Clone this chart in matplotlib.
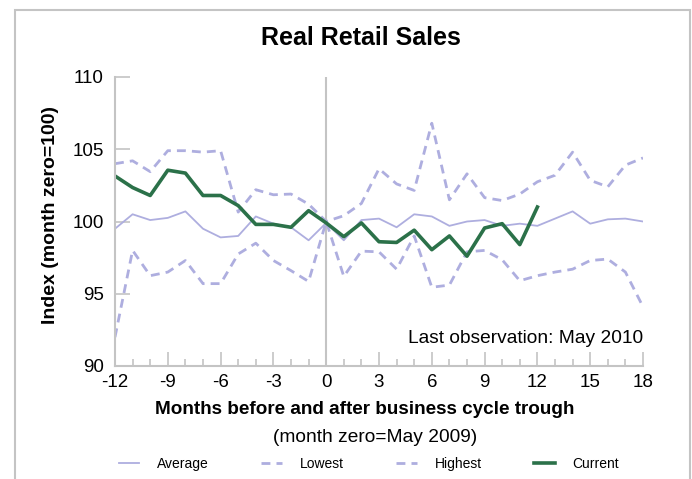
import matplotlib
matplotlib.use("Agg")
import matplotlib.pyplot as plt
from matplotlib.patches import Rectangle
from matplotlib.ticker import MultipleLocator, FixedLocator

plt.rcParams['font.family'] = ['Liberation Sans', 'DejaVu Sans']

months = list(range(-12, 19))
average = [99.5, 100.5, 100.1, 100.25, 100.7, 99.5, 98.9, 99.0, 100.35, 99.85, 99.6, 98.7, 99.9,
           98.7, 100.1, 100.2, 99.6, 100.5, 100.35, 99.7, 100.0, 100.1, 99.7, 99.85, 99.7,
           100.2, 100.7, 99.85, 100.15, 100.2, 100.0]
lowest = [92.0, 98.0, 96.25, 96.5, 97.3, 95.7, 95.7, 97.75, 98.5, 97.3, 96.6, 95.85, 100.0,
          96.2, 97.95, 97.9, 96.7, 99.0, 95.45, 95.6, 97.9, 98.0, 97.35, 95.9, 96.25,
          96.5, 96.7, 97.3, 97.4, 96.5, 94.1]
highest = [104.0, 104.2, 103.45, 104.9, 104.9, 104.8, 104.9, 100.65, 102.2, 101.85, 101.9, 101.2, 100.0,
           100.4, 101.25, 103.65, 102.6, 102.15, 106.8, 101.5, 103.3, 101.65, 101.45, 101.9, 102.75,
           103.2, 104.8, 102.85, 102.4, 103.9, 104.4]
current_months = list(range(-12, 13))
current = [103.15, 102.35, 101.8, 103.55, 103.35, 101.8, 101.8, 101.1, 99.8, 99.8, 99.6, 100.75, 99.9,
           98.95, 99.9, 98.6, 98.55, 99.4, 98.05, 99.0, 97.6, 99.55, 99.85, 98.4, 101.0]

xticks = [-12, -9, -6, -3, 0, 3, 6, 9, 12, 15, 18]
yticks = [90, 95, 100, 105, 110]

W, H = 692, 479
fig = plt.figure(figsize=(W / 100, H / 100), dpi=100)
ax = fig.add_axes([115 / W, 1 - 366 / H, (643 - 115) / W, (366 - 77) / H])

light = '#aeaedf'
green = '#2b7149'
grey = '#c4c4c4'

ax.plot(months, average, color=light, lw=1.3, label='Average')
ax.plot(months, lowest, color=light, lw=2.0, dashes=(3.2, 2.2), label='Lowest')
ax.plot(months, highest, color=light, lw=2.0, dashes=(3.2, 2.2), label='Highest')
ax.plot(current_months, current, color=green, lw=2.6, label='Current')

ax.axvline(0, color=grey, lw=1.5, zorder=0)

ax.set_xlim(-12, 18)
ax.set_ylim(90, 110)
for s in ['top', 'right']:
    ax.spines[s].set_visible(False)
for s in ['left', 'bottom']:
    ax.spines[s].set_color(grey)
    ax.spines[s].set_linewidth(1.5)

ax.xaxis.set_major_locator(FixedLocator(xticks))
ax.xaxis.set_minor_locator(MultipleLocator(1))
ax.yaxis.set_major_locator(FixedLocator(yticks))
ax.set_xticklabels([str(t) for t in xticks])
ax.set_yticklabels([str(t) for t in yticks])
ax.tick_params(axis='x', which='major', direction='in', length=10, width=1.2, color=grey,
               labelsize=13.5, pad=6)
ax.tick_params(axis='x', which='minor', direction='in', length=5, width=1.2, color=grey)
ax.tick_params(axis='y', which='major', direction='in', length=11, width=1.2, color=grey,
               labelsize=13.5, pad=8)

ax.text(18, 91.3, 'Last observation: May 2010', ha='right', va='bottom', fontsize=13.8)

fig.text(51 / W, 1 - 215 / H, 'Index (month zero=100)', rotation=90, ha='center', va='center',
         fontsize=14, fontweight='bold')

fig.text(361 / W, 1 - 38 / H, 'Real Retail Sales', ha='center', va='center',
         fontsize=18, fontweight='bold')
fig.text(365 / W, 1 - 410 / H, 'Months before and after business cycle trough', ha='center',
         va='center', fontsize=13.6, fontweight='bold')
fig.text(375 / W, 1 - 437 / H, '(month zero=May 2009)', ha='center', va='center', fontsize=13.8)

handles, labels = ax.get_legend_handles_labels()
leg = fig.legend(handles, labels, loc='center', bbox_to_anchor=(369 / W, 1 - 464 / H), ncol=4,
                 frameon=False, fontsize=10, handlelength=1.45, handletextpad=1.3,
                 columnspacing=3.8)

fig.patches.append(Rectangle((15 / W, -0.05), (690 - 15) / W, 1 - 10 / H + 0.05,
                             transform=fig.transFigure, fill=False, edgecolor=grey, lw=1.5))

fig.savefig('out.png', dpi=100)
